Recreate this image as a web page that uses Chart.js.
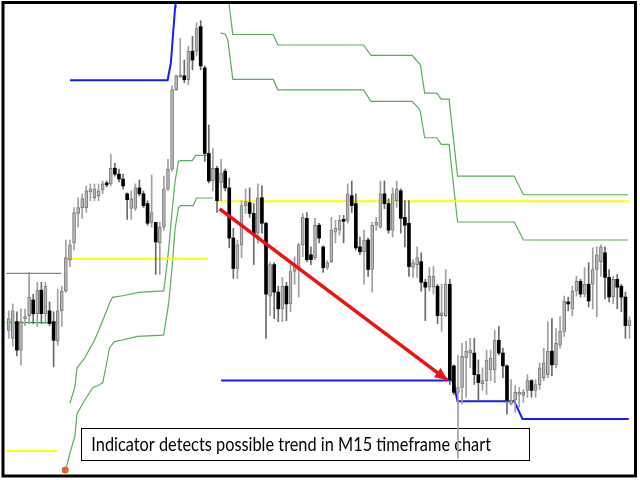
<!DOCTYPE html>
<html><head><meta charset="utf-8">
<script src="https://cdn.jsdelivr.net/npm/chart.js@4.4.1/dist/chart.umd.min.js"></script>
<style>html,body{margin:0;padding:0;background:#fff;}#wrap{width:640px;height:480px;position:relative;}</style>
</head><body><div id="wrap"><canvas id="c"></canvas></div>
<script>
// ---- candle data (price points, one entry per M15 bar) ----
const open = [148,140,157,128,160,163,179,165,189,165,
168,157,137,168,188,220,237,267,273,273,
289,283,285,291,298,297,313,307,302,287,
272,272,293,287,277,258,258,237,253,292,
312,393,406,407,403,432,432,457,415,328,
300,313,298,310,293,242,211,235,275,278,
267,247,283,257,183,215,187,170,193,175,
208,213,235,262,225,222,255,233,212,218,
248,250,261,260,285,277,233,228,240,210,
255,253,287,277,250,280,290,263,257,212,
215,218,197,192,192,193,163,163,195,112,
85,90,120,125,125,103,94,97,108,108,
138,125,112,73,77,83,82,87,97,87,
93,100,103,127,113,133,147,177,170,188,
198,185,195,195,210,218,227,202,182,200,
193,182,153];
const high = [168,175,167,170,170,207,185,197,197,197,
177,167,190,193,240,240,273,283,287,295,
297,297,297,300,300,327,318,312,307,288,
290,297,301,290,280,306,258,258,305,322,
397,408,445,423,437,447,461,463,417,357,
333,315,322,312,303,252,240,280,292,293,
277,297,295,258,217,217,193,202,197,215,
223,237,267,268,233,262,257,234,219,263,
260,265,265,297,300,287,243,250,242,258,
263,300,300,282,293,300,292,280,280,220,
233,227,200,212,213,195,195,210,200,113,
123,135,137,140,140,118,110,128,128,148,
152,130,113,98,92,90,88,103,98,98,
115,130,157,160,150,162,183,182,193,203,
200,212,217,232,233,235,233,210,203,205,
195,187,162];
const low = [140,132,122,113,153,155,155,152,155,155,
153,111,133,152,187,213,230,253,262,268,
280,280,280,287,294,295,305,299,292,261,
261,270,285,273,255,253,205,205,250,290,
310,392,405,400,398,413,427,413,320,298,
290,268,280,290,232,201,201,222,267,263,
215,237,247,140,163,160,157,157,158,167,
195,182,223,218,215,220,237,207,210,217,
237,245,237,257,268,230,225,195,203,187,
250,252,272,247,243,273,247,233,203,202,
202,188,158,188,185,155,147,162,93,83,
18,73,80,110,93,77,87,83,97,95,
123,100,63,72,65,70,75,80,80,80,
88,97,100,102,110,130,142,168,163,183,
182,182,172,170,162,203,180,177,175,170,
167,140,140];
const close = [160,168,128,157,162,182,165,189,165,193,
155,138,168,188,222,235,268,273,282,290,
292,292,290,297,296,313,307,302,295,281,
282,293,287,275,257,268,238,253,292,312,
393,407,408,403,432,423,455,417,328,300,
313,280,308,293,242,211,235,275,279,267,
245,283,257,185,215,187,170,193,175,208,
213,235,263,220,220,255,242,212,217,250,
252,260,259,287,275,232,228,240,210,255,
258,287,277,250,287,292,262,255,213,217,
222,197,192,203,203,163,166,195,98,85,
90,122,127,128,103,95,97,118,120,138,
125,112,77,77,85,85,85,97,87,93,
110,115,127,113,135,147,178,175,188,198,
185,195,178,210,225,233,202,182,200,192,
182,153,158];

// ---- indicator lines (x in bar index, y in price points) ----
const resistX = [15.0, 38.9, 39.7, 40.75, 40.85];
const resistY = [402.5, 402.5, 420, 477, 492];
const supportX = [52.0, 108.9, 109.3, 109.9, 123.8, 125.8, 151.8];
const supportY = [97, 97, 86.7, 76, 76, 58, 58];

const upperOuterX = [53.85, 54.05, 54.87, 64.78, 65.90, 86.86, 88.72, 98.78, 100.40, 100.81, 101.85, 104.82, 105.89, 107.82, 109.90, 123.78, 126.03, 151.66];
const upperOuterY = [485, 476.7, 449, 449, 438.3, 438.3, 427.7, 427.7, 420, 418, 389.3, 389.3, 383.3, 383.3, 305, 305, 286, 286];
const upperInnerX = [51.87, 53.01, 53.66, 54.87, 64.78, 65.90, 86.86, 88.72, 98.78, 100.40, 100.81, 101.85, 104.82, 105.89, 107.82, 109.90, 123.78, 126.03, 151.66];
const upperInnerY = [450.7, 449.3, 443.3, 403.3, 403.3, 392.7, 392.7, 381, 381, 374, 370, 344, 344, 337.3, 337.3, 258.3, 258.3, 240, 240];

const lowerInnerX = [14.98, 16.18, 16.74, 18.60, 21.02, 22.23, 24.79, 25.44, 27.86, 31.90, 37.94, 38.33, 39.15, 39.95, 40.75, 41.57, 42.20, 44.96, 45.75, 49.21];
const lowerInnerY = [74, 90, 110, 120, 138.3, 150, 176.7, 181.7, 183.3, 186.7, 188.3, 200, 230, 267, 300, 320, 320.7, 320.7, 326, 326];
const lowerOuterX = [14.01, 14.98, 16.18, 16.74, 18.60, 20.61, 21.82, 23.03, 24.24, 24.65, 25.86, 27.86, 31.49, 37.94, 39.15, 39.95, 40.75, 41.57, 42.13, 45.20, 46.00, 50.03];
const lowerOuterY = [6.7, 23.3, 40, 63.3, 77, 90, 91.7, 95, 120, 130, 136.7, 138.3, 142, 143.3, 175, 210, 252, 273, 275, 275, 282.7, 282.7];

const levelHighX = [-0.6, 12.87], levelHighY = [206, 206];
const levelLowX = [-0.6, 11.66], levelLowY = [156, 156];
const yellowAX = [14.01, 48.83], yellowAY = [221, 221];
const yellowBX = [50.83, 151.82], yellowBY = [279.3, 279.3];
const yellowCX = [-0.6, 11.9], yellowCY = [25.5, 25.5];

const trendX = [51.63, 107.48], trendY = [271.7, 97.3];
const startDotX = [13.84], startDotY = [6];

const noteText = 'Indicator detects possible trend in M15 timeframe chart';
const noteBox = { x0: 17.78, x1: 127.40, yTop: 49.3, yBottom: 16.7 };

// ---- build ----
const idx = open.map((_, i) => i);
const up = idx.map(i => close[i] >= open[i]);
const pts = (xs, ys) => xs.map((x, k) => ({ x: x, y: ys[k] }));
const line = (xs, ys, color, width, order) => ({
  type: 'line', data: pts(xs, ys), borderColor: color, borderWidth: width,
  pointRadius: 0, fill: false, tension: 0, order: order
});

const notePlugin = {
  id: 'note',
  beforeDatasetsDraw(chart) {
    const { ctx, scales: { x, y } } = chart;
    const l = x.getPixelForValue(noteBox.x0), r = x.getPixelForValue(noteBox.x1);
    const t = y.getPixelForValue(noteBox.yTop), b = y.getPixelForValue(noteBox.yBottom);
    ctx.save();
    ctx.fillStyle = '#fff';
    ctx.fillRect(l, t, r - l, b - t);
    ctx.strokeStyle = '#000'; ctx.lineWidth = 1;
    ctx.strokeRect(Math.round(l) + 0.5, Math.round(t) + 0.5, Math.round(r - l), Math.round(b - t));
    ctx.fillStyle = '#000';
    ctx.font = '19px Lato, "Open Sans", sans-serif';
    ctx.textBaseline = 'middle'; ctx.textAlign = 'left';
    ctx.fillText(noteText, l + 10, (t + b) / 2 + 1, r - l - 48);
    ctx.restore();
  }
};
const arrowPlugin = {
  id: 'arrowHead',
  afterDatasetsDraw(chart) {
    const { ctx, scales: { x, y } } = chart;
    const x0 = x.getPixelForValue(trendX[0]), y0 = y.getPixelForValue(trendY[0]);
    const x1 = x.getPixelForValue(trendX[1]), y1 = y.getPixelForValue(trendY[1]);
    const a = Math.atan2(y1 - y0, x1 - x0), len = 13, w = 5.5;
    ctx.save();
    ctx.fillStyle = '#f01010';
    ctx.beginPath();
    ctx.moveTo(x1, y1);
    ctx.lineTo(x1 - len * Math.cos(a) + w * Math.sin(a), y1 - len * Math.sin(a) - w * Math.cos(a));
    ctx.lineTo(x1 - len * Math.cos(a) - w * Math.sin(a), y1 - len * Math.sin(a) + w * Math.cos(a));
    ctx.closePath(); ctx.fill();
    ctx.restore();
  }
};
const framePlugin = {
  id: 'frame',
  afterDraw(chart) {
    const { ctx, width, height } = chart;
    ctx.save();
    ctx.strokeStyle = '#000'; ctx.lineWidth = 3;
    ctx.strokeRect(3, 2.5, width - 7.5, height - 6.5);
    ctx.restore();
  }
};

new Chart(document.getElementById('c'), {
  type: 'bar',
  data: {
    datasets: [
      { type: 'line', data: pts(startDotX, startDotY), showLine: false, pointRadius: 3.5,
        pointBackgroundColor: '#e4632c', pointBorderWidth: 0, order: 0 },
      line(trendX, trendY, '#f01010', 3.5, 1),
      { type: 'bar', data: idx.map(i => ({ x: i, y: [open[i], close[i]] })), barThickness: 3,
        grouped: false, borderSkipped: false, minBarLength: 1,
        backgroundColor: idx.map(i => up[i] ? '#b8b8b8' : '#000000'),
        borderColor: idx.map(i => up[i] ? '#7a7a7a' : '#000000'),
        borderWidth: idx.map(i => up[i] ? 1 : 0), order: 4 },
      { type: 'bar', data: idx.map(i => ({ x: i, y: [low[i], high[i]] })), barThickness: 1,
        grouped: false, borderSkipped: false,
        backgroundColor: idx.map(i => up[i] ? '#a0a0a0' : '#6a6a6a'), order: 5 },
      line(resistX, resistY, '#1a1aff', 2, 6),
      line(supportX, supportY, '#1a1aff', 2, 6),
      line(yellowAX, yellowAY, '#ffff00', 2, 7),
      line(yellowBX, yellowBY, '#ffff00', 2, 7),
      line(yellowCX, yellowCY, '#ffff00', 2, 7),
      line(levelHighX, levelHighY, '#6f8f6f', 1.2, 8),
      line(levelLowX, levelLowY, '#3c9c3c', 1.2, 8),
      line(upperOuterX, upperOuterY, '#5aae5a', 1.2, 9),
      line(upperInnerX, upperInnerY, '#5aae5a', 1.2, 9),
      line(lowerInnerX, lowerInnerY, '#5aae5a', 1.2, 9),
      line(lowerOuterX, lowerOuterY, '#5aae5a', 1.2, 9)
    ]
  },
  options: {
    responsive: true, maintainAspectRatio: false, animation: false, events: [],
    layout: { padding: 0 },
    plugins: { legend: { display: false }, tooltip: { enabled: false } },
    scales: {
      x: { type: 'linear', display: false, min: -1.151, max: 153.59, offset: false },
      y: { type: 'linear', display: false, min: 0, max: 480 }
    }
  },
  plugins: [notePlugin, arrowPlugin, framePlugin]
});
</script></body></html>
